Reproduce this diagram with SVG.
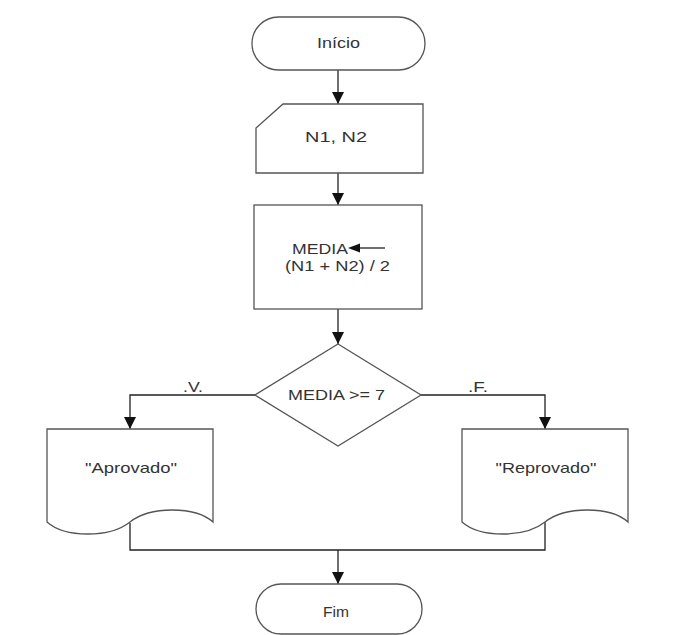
<svg xmlns="http://www.w3.org/2000/svg" width="694" height="635" viewBox="0 0 694 635">
<style>
.shape{fill:#fff;stroke:#555;stroke-width:1.3}
.conn{fill:none;stroke:#222;stroke-width:1.3}
.t{font-family:"Liberation Sans",Arial,sans-serif;font-size:15px;fill:#333;text-anchor:middle}
</style>
<defs>
<marker id="arr" markerUnits="userSpaceOnUse" markerWidth="12" markerHeight="12" viewBox="0 0 12 12" refX="12" refY="6" orient="auto">
<path d="M0,0 L12,6 L0,12 z" fill="#111"/>
</marker>
</defs>
<rect width="694" height="635" fill="#fff"/>
<g id="connectors">
<line class="conn" x1="338" y1="70" x2="338" y2="104" marker-end="url(#arr)"/>
<line class="conn" x1="338" y1="173" x2="338" y2="205" marker-end="url(#arr)"/>
<line class="conn" x1="338" y1="309" x2="338" y2="344" marker-end="url(#arr)"/>
<polyline class="conn" points="255,395 130,395 130,429" marker-end="url(#arr)"/>
<polyline class="conn" points="421,395 545,395 545,429" marker-end="url(#arr)"/>
<polyline class="conn" points="130,523 130,550 545,550 545,522"/>
<line class="conn" x1="338" y1="550" x2="338" y2="584" marker-end="url(#arr)"/>
<text class="t" x="193" y="392" textLength="20" lengthAdjust="spacingAndGlyphs">.V.</text>
<text class="t" x="478" y="392" textLength="20" lengthAdjust="spacingAndGlyphs">.F.</text>
</g>
<g id="inicio">
<rect class="shape" x="252" y="17" width="173" height="53" rx="26.5"/>
<text class="t" x="338.5" y="48" textLength="43" lengthAdjust="spacingAndGlyphs">Início</text>
</g>
<g id="entrada">
<path class="shape" d="M283,104 H423 V173 H256 V128 Z"/>
<text class="t" x="336" y="142" textLength="62" lengthAdjust="spacingAndGlyphs">N1, N2</text>
</g>
<g id="processo">
<rect class="shape" x="254" y="205" width="168" height="104"/>
<text class="t" x="320" y="254" textLength="56" lengthAdjust="spacingAndGlyphs">MEDIA</text>
<line x1="357" y1="248" x2="385" y2="248" stroke="#222" stroke-width="1.3"/>
<path d="M348,248 L360,243.5 L360,252.5 z" fill="#111"/>
<text class="t" x="337.5" y="271" textLength="105" lengthAdjust="spacingAndGlyphs">(N1 + N2) / 2</text>
</g>
<g id="decisao">
<path class="shape" d="M338,344 L421,395 L338,446 L255,395 Z"/>
<text class="t" x="336.5" y="400" textLength="97" lengthAdjust="spacingAndGlyphs">MEDIA &gt;= 7</text>
</g>
<g id="aprovado">
<path class="shape" d="M47,429 H213 V522 C195,506 150,506 130,522 C110,538 65,538 47,522 Z"/>
<text class="t" x="131" y="473" textLength="92" lengthAdjust="spacingAndGlyphs">"Aprovado"</text>
</g>
<g id="reprovado">
<path class="shape" d="M462,429 H628 V522 C610,506 565,506 545,522 C525,538 480,538 462,522 Z"/>
<text class="t" x="546" y="473" textLength="101" lengthAdjust="spacingAndGlyphs">"Reprovado"</text>
</g>
<g id="fim">
<rect class="shape" x="256" y="584" width="166" height="50" rx="25"/>
<text class="t" x="336" y="617" textLength="26" lengthAdjust="spacingAndGlyphs">Fim</text>
</g>
</svg>
